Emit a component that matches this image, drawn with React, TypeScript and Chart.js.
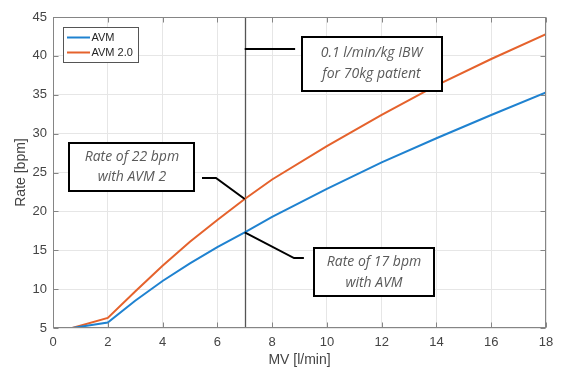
import React, { useEffect, useRef } from "react";
import { Chart, registerables } from "chart.js";

Chart.register(...registerables);

// ---- data ----
const mvValues = [0.7, 2, 3, 4, 5, 6, 7, 8, 10, 12, 14, 16, 18];
const avmRates = [5, 5.7, 8.5, 11.05, 13.3, 15.4, 17.3, 19.3, 22.9, 26.3, 29.4, 32.4, 35.3];
const avm2Rates = [5, 6.3, 9.7, 13.0, 16.1, 18.9, 21.6, 24.1, 28.4, 32.4, 36.2, 39.6, 42.8];
const seriesLabels = ["AVM", "AVM 2.0"];
const seriesColors = ["#1f82d0", "#e5622c"];
const xTitle = "MV [l/min]";
const yTitle = "Rate [bpm]";
const markerMV = 7;

const noteTexts = [
  ["0.1 l/min/kg IBW", "for 70kg patient"],
  ["Rate of 22 bpm", "with AVM 2"],
  ["Rate of 17 bpm", "with AVM"],
];

// annotation layout (data-unit anchors + pixel box sizes)
const noteLayout = [
  { cx: 11.63, cy: 39.0, w: 140, h: 54, path: [[markerMV, 40.9], [8.84, 40.9]] },
  { cx: 2.88, cy: 25.7, w: 125, h: 48, path: [[markerMV, avm2Rates[6]], [5.95, 24.3], [5.44, 24.3]] },
  { cx: 11.72, cy: 12.15, w: 120, h: 48, path: [[markerMV, avmRates[6]], [8.8, 14.0], [9.16, 14.0]] },
];

const tickFont = { family: "'Liberation Sans', Arial, sans-serif", size: 13 };
const titleFont = { family: "'Liberation Sans', Arial, sans-serif", size: 14 };

const framePlugin = {
  id: "frameAndNotes",
  beforeDatasetsDraw(chart: any) {
    const { ctx, chartArea: a, scales } = chart;
    const xs = scales.x;
    const vx = Math.round(xs.getPixelForValue(markerMV)) + 0.5;
    ctx.save();
    ctx.strokeStyle = "#555555";
    ctx.lineWidth = 1.3;
    ctx.beginPath();
    ctx.moveTo(vx, a.top);
    ctx.lineTo(vx, a.bottom);
    ctx.stroke();
    ctx.restore();
  },
  afterDatasetsDraw(chart: any) {
    const { ctx, chartArea: a, scales } = chart;
    const xs = scales.x;
    const ys = scales.y;
    ctx.save();
    // frame
    ctx.strokeStyle = "#858585";
    ctx.lineWidth = 1;
    const L = Math.round(a.left) + 0.5;
    const R = Math.round(a.right) - 0.5;
    const T = Math.round(a.top) + 0.5;
    const B = Math.round(a.bottom) - 0.5;
    ctx.strokeRect(L, T, R - L, B - T);
    const tl = 5;
    ctx.beginPath();
    xs.ticks.forEach((t: any) => {
      const px = Math.round(xs.getPixelForValue(t.value)) + 0.5;
      ctx.moveTo(px, B);
      ctx.lineTo(px, B - tl);
      ctx.moveTo(px, T);
      ctx.lineTo(px, T + tl);
    });
    ys.ticks.forEach((t: any) => {
      const py = Math.round(ys.getPixelForValue(t.value)) + 0.5;
      ctx.moveTo(L, py);
      ctx.lineTo(L + tl, py);
      ctx.moveTo(R, py);
      ctx.lineTo(R - tl, py);
    });
    ctx.stroke();

    // annotations
    noteLayout.forEach((n, i) => {
      ctx.strokeStyle = "#000000";
      ctx.lineWidth = 2;
      ctx.beginPath();
      n.path.forEach((p, j) => {
        const px = xs.getPixelForValue(p[0]);
        const py = ys.getPixelForValue(p[1]);
        if (j === 0) ctx.moveTo(px, py);
        else ctx.lineTo(px, py);
      });
      ctx.stroke();
      const cx = xs.getPixelForValue(n.cx);
      const cy = ys.getPixelForValue(n.cy);
      const bx = Math.round(cx - n.w / 2);
      const by = Math.round(cy - n.h / 2);
      ctx.fillStyle = "#ffffff";
      ctx.fillRect(bx, by, n.w, n.h);
      ctx.strokeRect(bx, by, n.w, n.h);
      ctx.fillStyle = "#5a5a5a";
      ctx.font = "italic 14px 'Open Sans', 'Noto Sans', sans-serif";
      ctx.textAlign = "center";
      ctx.textBaseline = "middle";
      const lines = noteTexts[i];
      const gap = 20.6;
      lines.forEach((s, k) => {
        ctx.fillText(s, cx, cy + (k - (lines.length - 1) / 2) * gap);
      });
    });

    // legend
    const lx = a.left + 10;
    const ly = a.top + 10;
    const lw = 75;
    const lh = 35;
    ctx.fillStyle = "#ffffff";
    ctx.fillRect(lx + 0.5, ly + 0.5, lw, lh);
    ctx.strokeStyle = "#555555";
    ctx.lineWidth = 1;
    ctx.strokeRect(lx + 0.5, ly + 0.5, lw, lh);
    ctx.font = "11px 'Liberation Sans', Arial, sans-serif";
    ctx.textAlign = "left";
    ctx.textBaseline = "middle";
    chart.data.datasets.forEach((ds: any, i: number) => {
      const yy = ly + 10.5 + i * 15;
      ctx.strokeStyle = ds.borderColor;
      ctx.lineWidth = 2;
      ctx.beginPath();
      ctx.moveTo(lx + 4, yy);
      ctx.lineTo(lx + 27, yy);
      ctx.stroke();
      ctx.fillStyle = "#262626";
      ctx.fillText(ds.label, lx + 28.5, yy + 0.5);
    });
    ctx.restore();
  },
};

export default function App() {
  const ref = useRef<HTMLCanvasElement | null>(null);
  useEffect(() => {
    if (!ref.current) return;
    const toPts = (ys: number[]) => mvValues.map((x, i) => ({ x, y: ys[i] }));
    const chart = new Chart(ref.current, {
      type: "line",
      data: {
        datasets: [
          {
            label: seriesLabels[0],
            data: toPts(avmRates),
            borderColor: seriesColors[0],
            borderWidth: 2,
            pointRadius: 0,
            tension: 0,
            fill: false,
          },
          {
            label: seriesLabels[1],
            data: toPts(avm2Rates),
            borderColor: seriesColors[1],
            borderWidth: 2,
            pointRadius: 0,
            tension: 0,
            fill: false,
          },
        ],
      },
      options: {
        responsive: false,
        animation: false,
        devicePixelRatio: 1,
        layout: { padding: { top: 17, right: 16, left: 0, bottom: 0 } },
        plugins: { legend: { display: false }, tooltip: { enabled: false } },
        scales: {
          x: {
            type: "linear",
            min: 0,
            max: 18,
            ticks: { stepSize: 2, color: "#444444", font: tickFont, padding: 7, maxRotation: 0 },
            grid: { color: "#e6e6e6", drawTicks: false },
            border: { display: false },
            title: { display: true, text: xTitle, color: "#444444", font: titleFont, padding: { top: 0, bottom: 0 } },
            afterFit: (s: any) => {
              s.height = 41;
            },
          },
          y: {
            type: "linear",
            min: 5,
            max: 45,
            ticks: { stepSize: 5, color: "#444444", font: tickFont, padding: 6 },
            grid: { color: "#e6e6e6", drawTicks: false },
            border: { display: false },
            title: { display: true, text: yTitle, color: "#444444", font: titleFont, padding: { top: 13, bottom: 0 } },
            afterFit: (s: any) => {
              s.width = 53;
            },
          },
        },
      },
      plugins: [framePlugin],
    });
    return () => chart.destroy();
  }, []);
  return (
    <div style={{ position: "fixed", left: 0, top: 0, width: 562, height: 369, background: "#ffffff" }}>
      <canvas ref={ref} width={562} height={369} style={{ display: "block", width: 562, height: 369 }} />
    </div>
  );
}
